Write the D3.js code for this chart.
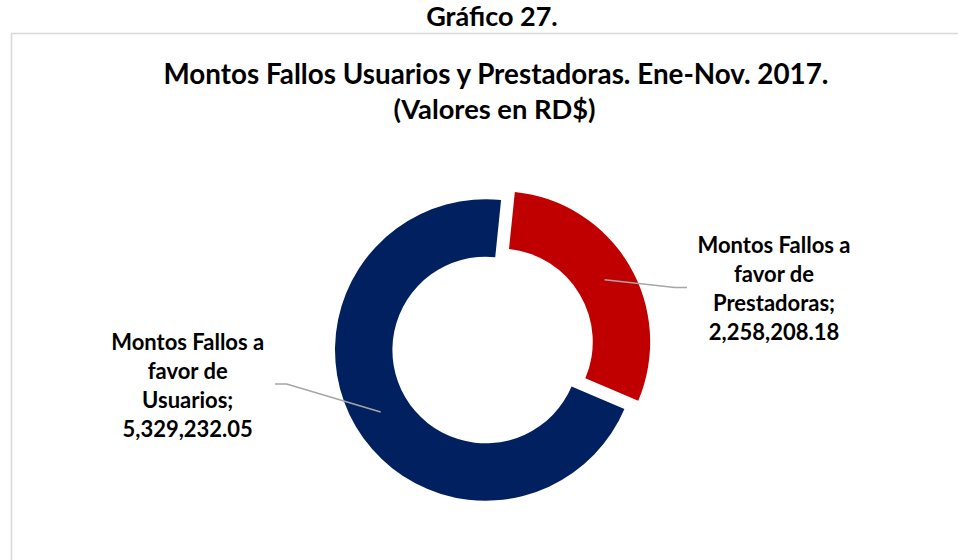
<!DOCTYPE html>
<html>
<head>
<meta charset="utf-8">
<script src="https://cdn.jsdelivr.net/npm/d3@7"></script>
<style>
  body { margin: 0; background: #fff; }
  text { font-family: Lato, "Liberation Sans", sans-serif; font-weight: bold; fill: #000; }
</style>
</head>
<body>
<script>
// data
var categories = ['Montos Fallos a favor de Usuarios', 'Montos Fallos a favor de Prestadoras'];
var values = [5329232.05, 2258208.18];
var label_lines = [['Montos Fallos a', 'favor de', 'Usuarios;'], ['Montos Fallos a', 'favor de', 'Prestadoras;']];
var colors = ['#002060', '#C00000'];

var width = 958, height = 560;
var cx = 485.7, cy = 350;
var outer_r = 150.7, inner_r = 93.3;
var explode = [0, 16];
var rotation = 113 * Math.PI / 180;

// label placement (manual in the original)
var label_pos = [
    { x: 187.7, y: 350, elbow: [286.7, 384], end: [275, 384] },
    { x: 774, y: 253, elbow: [675, 287.5], end: [687, 287.5] }
];

var fmt = d3.format(',.2f');

var svg = d3.select('body').append('svg')
    .attr('width', width)
    .attr('height', height);

svg.append('rect')
    .attr('width', width)
    .attr('height', height)
    .style('fill', '#fff');

// chart area border (only top & left visible)
svg.append('path')
    .attr('d', 'M11.5,' + height + 'V33.5H' + (width + 5))
    .style('fill', 'none')
    .style('stroke', '#d9d9d9')
    .style('stroke-width', 1.6);

svg.append('text')
    .attr('x', 492)
    .attr('y', 25.7)
    .attr('text-anchor', 'middle')
    .style('font-size', '27px')
    .text('Gráfico 27.');

svg.append('text')
    .attr('x', 496)
    .attr('y', 83.5)
    .attr('text-anchor', 'middle')
    .style('font-size', '27.8px')
    .text('Montos Fallos Usuarios y Prestadoras. Ene-Nov. 2017.');

svg.append('text')
    .attr('x', 494.5)
    .attr('y', 118.5)
    .attr('text-anchor', 'middle')
    .style('font-size', '27.3px')
    .text('(Valores en RD$)');

var pie = d3.pie()
    .sort(null)
    .startAngle(rotation)
    .endAngle(rotation + 2 * Math.PI);

var arc = d3.arc()
    .innerRadius(inner_r)
    .outerRadius(outer_r);

var arcs = pie(values);

function offset(d, i) {
    var mid = (d.startAngle + d.endAngle) / 2;
    return [Math.sin(mid) * explode[i], -Math.cos(mid) * explode[i]];
}

var g = svg.append('g')
    .attr('transform', 'translate(' + cx + ',' + cy + ')');

g.selectAll('path.slice')
    .data(arcs)
    .enter()
    .append('path')
        .attr('class', 'slice')
        .attr('transform', function(d, i) { return 'translate(' + offset(d, i) + ')'; })
        .attr('d', arc)
        .style('fill', function(d, i) { return colors[i]; })
        .append('title')
        .text(function(d, i) { return categories[i] + '; ' + fmt(values[i]); });

// leader lines
svg.selectAll('polyline.leader')
    .data(arcs)
    .enter()
    .append('polyline')
        .attr('class', 'leader')
        .attr('points', function(d, i) {
            var c = arc.centroid(d);
            var o = offset(d, i);
            var p0 = [cx + c[0] + o[0], cy + c[1] + o[1]];
            return [p0, label_pos[i].elbow, label_pos[i].end].join(' ');
        })
        .style('fill', 'none')
        .style('stroke', '#a6a6a6')
        .style('stroke-width', 1.6);

// labels
var labels = svg.selectAll('text.label')
    .data(arcs)
    .enter()
    .append('text')
        .attr('class', 'label')
        .attr('text-anchor', 'middle')
        .style('font-size', '22px');

labels.each(function(d, i) {
    var lines = label_lines[i].concat([fmt(values[i])]);
    d3.select(this).selectAll('tspan')
        .data(lines)
        .enter()
        .append('tspan')
            .attr('x', label_pos[i].x)
            .attr('y', function(t, j) { return label_pos[i].y + j * 29; })
            .text(function(t) { return t; });
});
</script>
</body>
</html>
